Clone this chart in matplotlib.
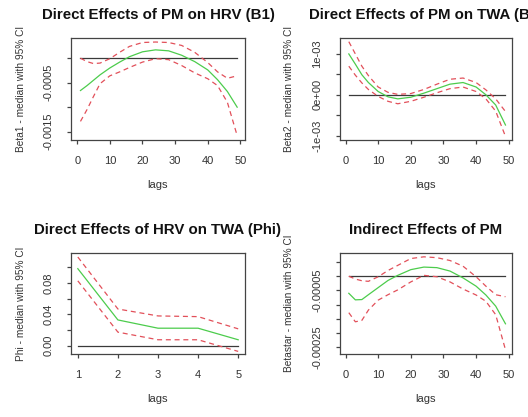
import matplotlib
matplotlib.use("Agg")
import matplotlib.pyplot as plt
import numpy as np

plt.rcParams['font.family'] = ['Liberation Sans', 'DejaVu Sans']

# ---------------- data ----------------
lags = [1, 3, 5, 7, 10, 13, 16, 20, 24, 28, 32, 36, 40, 43, 46, 49]

# Panel 1: Direct effects of PM on HRV (B1)  (values x 1e-4)
b1_med = [-6.6, -5.6, -4.5, -3.4, -2.0, -0.8, 0.3, 1.3, 1.7, 1.5, 0.6, -0.7, -2.4, -4.4, -6.8, -10.0]
b1_up = [0.0, -0.7, -1.1, -1.0, -0.1, 1.2, 2.4, 3.2, 3.3, 3.2, 2.6, 1.2, -0.9, -2.8, -4.1, -3.6]
b1_lo = [-12.9, -10.5, -7.8, -5.2, -3.6, -2.8, -1.9, -0.8, -0.1, -0.3, -1.5, -3.0, -4.2, -5.6, -9.0, -15.8]

# Panel 2: Direct effects of PM on TWA (B2)  (values x 1e-3)
b2_med = [1.0, 0.75, 0.49, 0.3, 0.08, -0.05, -0.1, -0.06, 0.04, 0.15, 0.26, 0.3, 0.19, 0.0, -0.25, -0.74]
b2_up = [1.3, 1.0, 0.7, 0.47, 0.19, 0.06, 0.01, 0.03, 0.13, 0.26, 0.38, 0.41, 0.3, 0.12, -0.1, -0.41]
b2_lo = [0.7, 0.48, 0.29, 0.13, -0.04, -0.16, -0.22, -0.16, -0.06, 0.05, 0.15, 0.19, 0.08, -0.1, -0.4, -1.02]

# Panel 3: Direct effects of HRV on TWA (Phi)
phi_lags = [1, 2, 3, 4, 5]
phi_med = [0.098, 0.0328, 0.0223, 0.0223, 0.0076]
phi_up = [0.1128, 0.0467, 0.0379, 0.037, 0.0215]
phi_lo = [0.0825, 0.0173, 0.0076, 0.0076, -0.0072]

# Panel 4: Indirect effects of PM  (values x 1e-5)
bs_med = [-6.0, -8.3, -8.2, -6.5, -4.0, -1.5, 0.3, 2.3, 3.2, 3.0, 1.8, -0.6, -3.5, -6.6, -10.5, -16.7]
bs_up = [0.0, -1.0, -1.6, -1.8, -0.2, 2.0, 3.8, 6.2, 6.8, 6.5, 5.5, 3.5, -0.2, -3.5, -6.5, -7.2]
bs_lo = [-12.8, -16.0, -15.5, -11.9, -8.4, -6.5, -4.8, -2.0, 0.3, -0.2, -2.0, -4.5, -6.6, -8.8, -13.5, -25.8]

titles = ["Direct Effects of PM on HRV (B1)", "Direct Effects of PM on TWA (B2)",
          "Direct Effects of HRV on TWA (Phi)", "Indirect Effects of PM"]
ylabels = ["Beta1 - median with 95% CI", "Beta2 - median with 95% CI",
           "Phi - median with 95% CI", "Betastar - median with 95% CI"]

# ---------------- figure ----------------
W, H = 528, 417
fig = plt.figure(figsize=(W / 100, H / 100), dpi=100)

def rect(l, r, t, b):
    return [l / W, 1 - b / H, (r - l) / W, (b - t) / H]

GREEN = '#4ccc4c'
RED = '#e2505a'
AX = '#444444'

panels = [
    dict(rect=rect(71, 245, 38, 140), x=lags, med=np.array(b1_med) * 1e-4,
         up=np.array(b1_up) * 1e-4, lo=np.array(b1_lo) * 1e-4,
         xlim=(-1.9, 51.4), ylim=(-0.00167, 0.000412),
         xt=[0, 10, 20, 30, 40, 50], yt=[0, -0.0005, -0.001, -0.0015],
         ylab={-0.0005: "-0.0005", -0.0015: "-0.0015"}),
    dict(rect=rect(340, 512, 38, 140), x=lags, med=np.array(b2_med) * 1e-3,
         up=np.array(b2_up) * 1e-3, lo=np.array(b2_lo) * 1e-3,
         xlim=(-1.7, 51.0), ylim=(-1.107e-3, 1.39e-3),
         xt=[0, 10, 20, 30, 40, 50], yt=[-1e-3, -5e-4, 0, 5e-4, 1e-3],
         ylab={-1e-3: "-1e-03", 0: "0e+00", 1e-3: "1e-03"}),
    dict(rect=rect(71, 245, 253, 354), x=phi_lags, med=np.array(phi_med),
         up=np.array(phi_up), lo=np.array(phi_lo),
         xlim=(0.83, 5.17), ylim=(-0.0105, 0.1179),
         xt=[1, 2, 3, 4, 5], yt=[0, 0.02, 0.04, 0.06, 0.08, 0.10],
         ylab={0: "0.00", 0.04: "0.04", 0.08: "0.08"}),
    dict(rect=rect(340, 512, 253, 354), x=lags, med=np.array(bs_med) * 1e-5,
         up=np.array(bs_up) * 1e-5, lo=np.array(bs_lo) * 1e-5,
         xlim=(-1.7, 51.0), ylim=(-0.000273, 0.0000814),
         xt=[0, 10, 20, 30, 40, 50],
         yt=[5e-5, 0, -5e-5, -1e-4, -1.5e-4, -2e-4, -2.5e-4],
         ylab={-5e-5: "-0.00005", -2.5e-4: "-0.00025"}),
]

for i, p in enumerate(panels):
    ax = fig.add_axes(p['rect'])
    x = p['x']
    ax.plot([x[0], x[-1]], [0, 0], color='#3a3a3a', lw=0.9)
    ax.plot(x, p['up'], color=RED, lw=0.9, dashes=(4, 3))
    ax.plot(x, p['lo'], color=RED, lw=0.9, dashes=(4, 3))
    ax.plot(x, p['med'], color=GREEN, lw=0.9)
    ax.set_xlim(*p['xlim'])
    ax.set_ylim(*p['ylim'])
    ax.set_xticks(p['xt'])
    ax.set_xticklabels([str(v) for v in p['xt']])
    ax.set_yticks(p['yt'])
    labs = []
    for v in p['yt']:
        lab = ""
        for k, s in p['ylab'].items():
            if abs(k - v) < 1e-12:
                lab = s
        labs.append(lab)
    ax.set_yticklabels(labs, rotation=90, va='center')
    for sp in ax.spines.values():
        sp.set_color(AX)
        sp.set_linewidth(0.9)
    ax.tick_params(direction='out', length=3.2, width=0.9, color=AX,
                   labelsize=8, labelcolor='#333333')
    ax.tick_params(axis='x', pad=8)
    ax.tick_params(axis='y', pad=9.5)
    ax.set_title(titles[i], fontsize=10.8, fontweight='bold', color='#111111', pad=13.5)
    ax.set_xlabel("lags", fontsize=8, color='#333333')
    ax.xaxis.set_label_coords(0.5, -0.39 if i < 2 else -0.40)
    ax.set_ylabel(ylabels[i], fontsize=7.3, color='#333333')
    ax.yaxis.set_label_coords(-0.26 if i % 2 == 0 else -0.27, 0.5)

fig.savefig("out.png", dpi=100)
